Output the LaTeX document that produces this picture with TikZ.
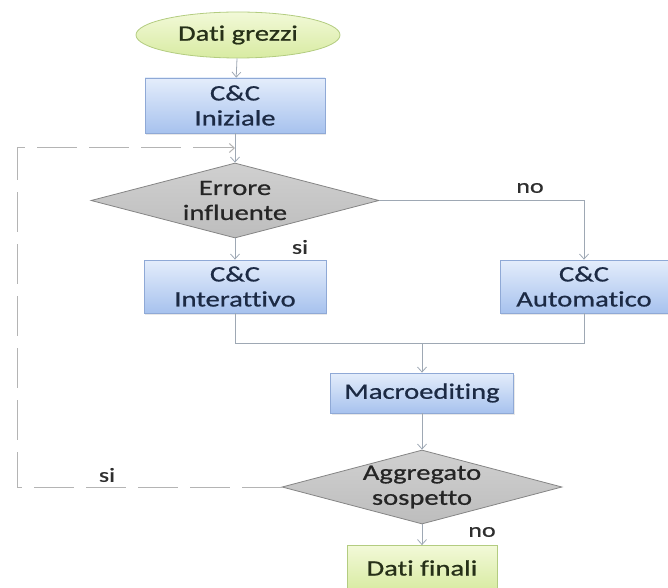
\documentclass[tikz,border=0pt]{standalone}
\usepackage{fontspec}
\setmainfont{Carlito}[FakeStretch=1.3, FakeBold=0.8, Ligatures={NoCommon}]
\usetikzlibrary{shapes.geometric,arrows.meta,shadows}

\definecolor{bluetop}{HTML}{E4EDFB}
\definecolor{bluebot}{HTML}{A7C2EE}
\definecolor{blueedge}{HTML}{8FA9D6}
\definecolor{bluetext}{HTML}{1C2A44}
\definecolor{greentop}{HTML}{F2F9D8}
\definecolor{greenbot}{HTML}{D8EBA2}
\definecolor{greenedge}{HTML}{B3CC80}
\definecolor{greentext}{HTML}{263018}
\definecolor{graytop}{HTML}{D0D0D0}
\definecolor{graybot}{HTML}{BDBDBD}
\definecolor{grayedge}{HTML}{858585}
\definecolor{linecol}{HTML}{9EA8B4}
\definecolor{dashcol}{HTML}{B4B4B4}
\definecolor{labelcol}{HTML}{2E2E2E}

\tikzset{
  every node/.style={font=\fontsize{22}{25}\selectfont, inner sep=0pt, align=center},
  process/.style={rectangle, draw=blueedge, line width=0.8pt,
    top color=bluetop, bottom color=bluebot, text=bluetext,
    drop shadow={shadow xshift=1.2pt, shadow yshift=-1.6pt, opacity=0.18}},
  terminal/.style={ellipse, draw=greenedge, line width=0.8pt,
    top color=greentop, bottom color=greenbot, text=greentext},
  endbox/.style={rectangle, draw=greenedge, line width=0.8pt,
    top color=greentop, bottom color=greenbot, text=greentext},
  decision/.style={diamond, draw=grayedge, line width=0.8pt,
    top color=graytop, bottom color=graybot},
  dtext/.style={text=labelcol!80!black},
  flowlabel/.style={text=labelcol, font=\fontsize{20}{24}\selectfont},
  link/.style={draw=linecol, line width=0.8pt},
  arrowlink/.style={link, -{Straight Barb[length=5pt,width=9pt]}},
  feedback/.style={draw=dashcol, line width=1pt, dash pattern=on 40pt off 12pt,
    -{Straight Barb[length=5pt,width=9pt]}}
}

\begin{document}
\begin{tikzpicture}[x=1pt,y=1pt]
  \useasboundingbox (0,0) rectangle (668,587);

  % main column
  \node[terminal, minimum width=204pt, minimum height=46pt] (grezzi) at (238,552) {Dati grezzi};
  \node[process, minimum width=180pt, minimum height=55pt] (iniziale) at (235,481.5) {C\&C\\Iniziale};
  \coordinate (loopin) at (235,439);
  \node[decision, minimum width=288pt, minimum height=75pt] (errore) at (235,386.5) {};
  \node[dtext] (erroretext) at (errore) {Errore\\influente};
  \node[process, minimum width=182pt, minimum height=53pt] (interattivo) at (235,300.5) {C\&C\\Interattivo};
  \node[process, minimum width=168pt, minimum height=53pt] (automatico) at (584,300.5) {C\&C\\Automatico};
  \coordinate (join) at (422,244);
  \node[process, minimum width=183pt, minimum height=40pt] (macro) at (422,194) {Macroediting};
  \node[decision, minimum width=280pt, minimum height=74pt] (aggregato) at (422,100) {};
  \node[dtext] (aggregatotext) at (aggregato) {Aggregato\\sospetto};
  \node[endbox, minimum width=150pt, minimum height=45pt] (finali) at (422,19) {Dati finali};
  \coordinate (loopcorner) at (17,100);

  % connectors
  \draw[arrowlink] (grezzi) -- (iniziale);
  \draw[arrowlink] (iniziale) -- (errore.north);
  \draw[arrowlink] (errore.south) -- (interattivo);
  \draw[arrowlink] (errore.east) -| (automatico.north);
  \draw[link] (interattivo.south) |- (join);
  \draw[link] (automatico.south) |- (join);
  \draw[arrowlink] (join) -- (macro);
  \draw[arrowlink] (macro) -- (aggregato.north);
  \draw[arrowlink] (aggregato.south) -- (finali);
  \draw[feedback] (aggregato.west) -- (loopcorner) |- (loopin);

  % branch labels
  \node[flowlabel] (sierrore) at (300,340) {si};
  \node[flowlabel] (noerrore) at (530,399) {no};
  \node[flowlabel] (siaggregato) at (107,112) {si};
  \node[flowlabel] (noaggregato) at (482,55) {no};
\end{tikzpicture}
\end{document}
